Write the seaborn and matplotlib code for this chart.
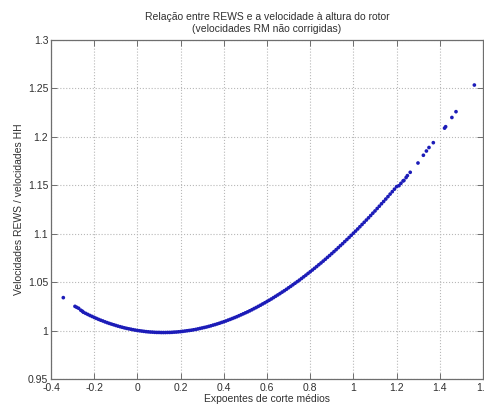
import matplotlib
matplotlib.use("Agg")
import matplotlib.pyplot as plt
import seaborn as sns
import pandas as pd

# Mean shear exponent (x) and REWS / hub-height speed ratio (y)
shear_left = [-0.343, -0.289, -0.281, -0.272, -0.262, -0.255, -0.25, -0.24, -0.23]
ratio_left = [1.034, 1.025, 1.024, 1.023, 1.021, 1.020, 1.0189, 1.0178, 1.0167]

shear_main = [
    -0.22, -0.21, -0.20, -0.19, -0.18, -0.17, -0.16, -0.15, -0.14, -0.13,
    -0.12, -0.11, -0.10, -0.09, -0.08, -0.07, -0.06, -0.05, -0.04, -0.03,
    -0.02, -0.01, 0.00, 0.01, 0.02, 0.03, 0.04, 0.05, 0.06, 0.07,
    0.08, 0.09, 0.10, 0.11, 0.12, 0.13, 0.14, 0.15, 0.16, 0.17,
    0.18, 0.19, 0.20, 0.21, 0.22, 0.23, 0.24, 0.25, 0.26, 0.27,
    0.28, 0.29, 0.30, 0.31, 0.32, 0.33, 0.34, 0.35, 0.36, 0.37,
    0.38, 0.39, 0.40, 0.41, 0.42, 0.43, 0.44, 0.45, 0.46, 0.47,
    0.48, 0.49, 0.50, 0.51, 0.52, 0.53, 0.54, 0.55, 0.56, 0.57,
    0.58, 0.59, 0.60, 0.61, 0.62, 0.63, 0.64, 0.65, 0.66, 0.67,
    0.68, 0.69, 0.70, 0.71, 0.72, 0.73, 0.74, 0.75, 0.76, 0.77,
    0.78, 0.79, 0.80, 0.81, 0.82, 0.83, 0.84, 0.85, 0.86, 0.87,
    0.88, 0.89, 0.90, 0.91, 0.92, 0.93, 0.94, 0.95, 0.96, 0.97,
    0.98, 0.99, 1.00, 1.01, 1.02, 1.03, 1.04, 1.05, 1.06, 1.07,
    1.08, 1.09, 1.10, 1.11, 1.12, 1.13, 1.14, 1.15, 1.16, 1.17,
    1.18, 1.19, 1.20,
]
ratio_main = [
    1.0156, 1.0146, 1.0136, 1.0126, 1.0116, 1.0107, 1.0099, 1.0090, 1.0082, 1.0074,
    1.0067, 1.0060, 1.0053, 1.0046, 1.0040, 1.0034, 1.0028, 1.0023, 1.0018, 1.0014,
    1.0009, 1.0005, 1.0001, 0.9998, 0.9995, 0.9992, 0.9989, 0.9987, 0.9985, 0.9984,
    0.9982, 0.9981, 0.9981, 0.9980, 0.9980, 0.9980, 0.9981, 0.9981, 0.9982, 0.9984,
    0.9985, 0.9987, 0.9989, 0.9992, 0.9995, 0.9998, 1.0001, 1.0004, 1.0008, 1.0012,
    1.0017, 1.0022, 1.0027, 1.0032, 1.0037, 1.0043, 1.0049, 1.0056, 1.0062, 1.0069,
    1.0076, 1.0084, 1.0091, 1.0099, 1.0108, 1.0116, 1.0125, 1.0134, 1.0143, 1.0153,
    1.0163, 1.0173, 1.0183, 1.0193, 1.0204, 1.0215, 1.0227, 1.0238, 1.0250, 1.0262,
    1.0275, 1.0287, 1.0300, 1.0313, 1.0326, 1.0340, 1.0354, 1.0368, 1.0382, 1.0397,
    1.0411, 1.0426, 1.0442, 1.0457, 1.0473, 1.0489, 1.0505, 1.0521, 1.0538, 1.0555,
    1.0572, 1.0590, 1.0607, 1.0625, 1.0643, 1.0661, 1.0680, 1.0698, 1.0717, 1.0736,
    1.0756, 1.0775, 1.0795, 1.0815, 1.0835, 1.0856, 1.0877, 1.0897, 1.0919, 1.0940,
    1.0961, 1.0983, 1.1005, 1.1027, 1.1049, 1.1072, 1.1095, 1.1118, 1.1141, 1.1164,
    1.1188, 1.1212, 1.1235, 1.1260, 1.1284, 1.1309, 1.1333, 1.1358, 1.1383, 1.1409,
    1.1434, 1.1460, 1.1486,
]

shear_right = [1.211, 1.22, 1.23, 1.234, 1.244, 1.25, 1.263, 1.299, 1.324, 1.338,
               1.35, 1.37, 1.422, 1.427, 1.456, 1.475, 1.56]
ratio_right = [1.1496, 1.152, 1.1545, 1.155, 1.158, 1.160, 1.1634, 1.173, 1.181, 1.1854,
               1.189, 1.194, 1.209, 1.2105, 1.220, 1.226, 1.2535]

x_ticks = [-0.4, -0.2, 0, 0.2, 0.4, 0.6, 0.8, 1, 1.2, 1.4, 1.6]
x_tick_labels = ["-0.4", "-0.2", "0", "0.2", "0.4", "0.6", "0.8", "1", "1.2", "1.4", "1.6"]
y_ticks = [0.95, 1, 1.05, 1.1, 1.15, 1.2, 1.25, 1.3]
y_tick_labels = ["0.95", "1", "1.05", "1.1", "1.15", "1.2", "1.25", "1.3"]

df = pd.DataFrame({
    "shear": shear_left + shear_main + shear_right,
    "ratio": ratio_left + ratio_main + ratio_right,
})

sns.set_theme(style="white")
plt.rcParams["font.family"] = ["Liberation Sans", "DejaVu Sans"]
plt.rcParams["font.size"] = 7.5

fig = plt.figure(figsize=(4.85, 4.05), dpi=100)
ax = fig.add_axes([51 / 485, 1 - 379 / 405, 432 / 485, 339 / 405])

sns.scatterplot(data=df, x="shear", y="ratio", ax=ax, s=7, color="#1c1cb8",
                edgecolor="none", linewidth=0)

ax.set_xlim(-0.4, 1.6)
ax.set_ylim(0.95, 1.3)
ax.set_xticks(x_ticks)
ax.set_xticklabels(x_tick_labels)
ax.set_yticks(y_ticks)
ax.set_yticklabels(y_tick_labels)

ax.grid(True, linestyle=":", color="#b8b8b8", linewidth=0.8)
for sp in ax.spines.values():
    sp.set_visible(True)
    sp.set_color("#6e6e6e")
    sp.set_linewidth(0.9)
ax.tick_params(direction="in", length=4, width=0.7, color="#6e6e6e",
               top=True, right=True, bottom=True, left=True,
               labelsize=7.5, labelcolor="#303030")
ax.tick_params(axis="x", pad=3)
ax.tick_params(axis="y", pad=2)

ax.set_title("Relação entre REWS e a velocidade à altura do rotor\n(velocidades RM não corrigidas)",
             fontsize=7.5, color="#303030", pad=6, linespacing=1.2)
ax.set_xlabel("Expoentes de corte médios", fontsize=7.5, color="#303030", labelpad=0.5)
ax.set_ylabel("Velocidades REWS / velocidades HH", fontsize=7.5, color="#303030", labelpad=3)

fig.savefig("out.png", dpi=100, facecolor="white")
